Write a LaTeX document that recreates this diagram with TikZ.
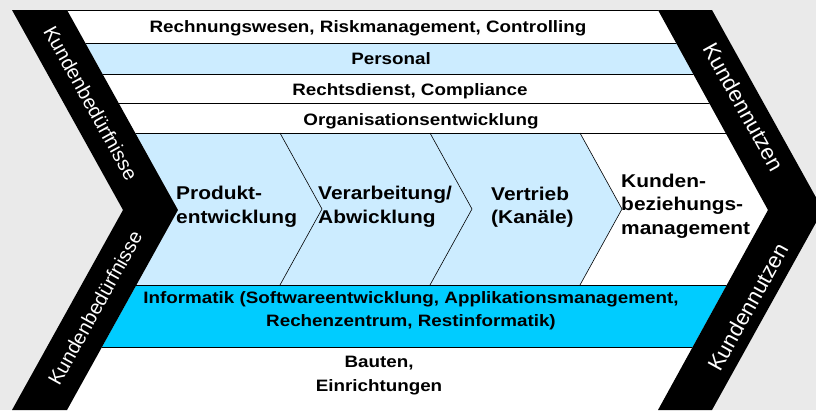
\documentclass[tikz,border=0pt]{standalone}
\usepackage{fontspec}
\setmainfont{Liberation Sans}
\definecolor{bggray}{HTML}{EAEAEA}
\definecolor{paleblue}{HTML}{CCECFF}
\definecolor{itcyan}{HTML}{00CCFF}
\begin{document}
\begin{tikzpicture}[x=1pt,y=-1pt,
  rowline/.style={draw=black,line width=1pt},
  chevline/.style={draw=black,line width=0.6pt},
  rowtext/.style={font=\fontsize{16.5}{23.3}\selectfont\bfseries,xscale=1.14,inner sep=0pt,align=center},
  proctext/.style={font=\fontsize{18.5}{23.5}\selectfont\bfseries,xscale=1.13,inner sep=0pt,align=left,anchor=west},
  bandtext/.style={font=\fontsize{20}{24}\selectfont,text=white,inner sep=0pt},
  band/.style={fill=black}]
\useasboundingbox (0,0) rectangle (816,410);
\fill[bggray] (0,0) rectangle (816,410);

% inner area between the two chevron bands
\begin{scope}
  \clip (67,10) -- (658,10) -- (768,210) -- (658,410) -- (67,410) -- (178,210) -- cycle;
  \fill[white] (0,0) rectangle (816,410);
  \fill[paleblue] (0,43) rectangle (816,74);
  \fill[paleblue] (0,133) -- (580,133) -- (622,209) -- (580,285) -- (0,285) -- cycle;
  \fill[itcyan] (0,285) rectangle (816,347);
  % horizontal separators
  \foreach \yy in {10.5,43,74,103,133,285,347}
    \draw[rowline] (0,\yy) -- (816,\yy);
  % process chevron borders
  \foreach \xx in {280,430,580}
    \draw[chevline] (\xx,133) -- (\xx+42,209) -- (\xx,285);
\end{scope}

% black bands
\fill[band] (12,10) -- (67,10) -- (178,210) -- (67,410) -- (12,410) -- (123,210) -- cycle;
\fill[band] (658,10) -- (712,10) -- (823,210) -- (712,410) -- (658,410) -- (768,210) -- cycle;

\node[bandtext,rotate=-61] (needsTop) at (91,103) {Kundenbedürfnisse};
\node[bandtext,rotate=61] (needsBottom) at (95,308) {Kundenbedürfnisse};
\node[bandtext,rotate=-61,font=\fontsize{22}{26}\selectfont] (valueTop) at (744,107) {Kundennutzen};
\node[bandtext,rotate=61,font=\fontsize{22}{26}\selectfont] (valueBottom) at (748,307) {Kundennutzen};

% support functions
\node[rowtext,anchor=base] (finance) at (368,32) {Rechnungswesen, Riskmanagement, Controlling};
\node[rowtext,anchor=base] (staff) at (391,64.5) {Personal};
\node[rowtext,anchor=base] (legal) at (410,95) {Rechtsdienst, Compliance};
\node[rowtext,anchor=base] (orgdev) at (421,125.5) {Organisationsentwicklung};

% core process
\node[proctext] (product) at (176,207) {Produkt-\\entwicklung};
\node[proctext] (processing) at (318,207) {Verarbeitung/\\Abwicklung};
\node[proctext] (sales) at (491,207) {Vertrieb\\(Kanäle)};
\node[proctext] (crm) at (621,206) {Kunden-\\beziehungs-\\management};

% infrastructure
\node[rowtext] (it) at (411,311) {Informatik (Softwareentwicklung, Applikationsmanagement,\\Rechenzentrum, Restinformatik)};
\node[rowtext] (buildings) at (379,375.5) {Bauten,\\Einrichtungen};
\end{tikzpicture}
\end{document}
